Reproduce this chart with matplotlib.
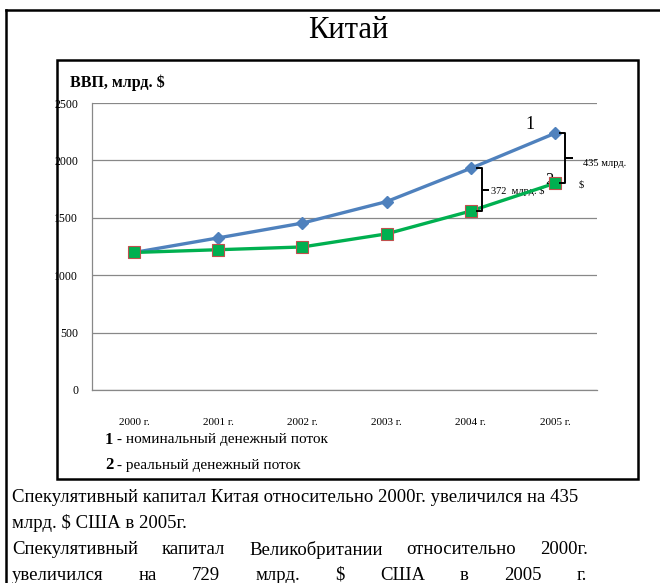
import numpy as np
import matplotlib.pyplot as plt
import matplotlib.patches as patches
from matplotlib.lines import Line2D

years = ["2000 г.", "2001 г.", "2002 г.", "2003 г.", "2004 г.", "2005 г."]
nominal = [1198, 1325, 1454, 1641, 1931, 2236]
real = [1198, 1222, 1246, 1360, 1559, 1801]
yticks = [0, 500, 1000, 1500, 2000, 2500]

W, H = 660, 583
SERIF = "Liberation Serif"


def fx(px):
    return px / W


def fy(py):
    return 1 - py / H


fig = plt.figure(figsize=(W / 100, H / 100), dpi=100)

# outer frame and chart box
fig.add_artist(Line2D([fx(6), fx(6)], [fy(10), 0], color="black", lw=1.8))
fig.add_artist(Line2D([fx(6), 1], [fy(10), fy(10)], color="black", lw=1.8))
fig.add_artist(patches.Rectangle((fx(57), fy(479)), fx(638) - fx(57), fy(60) - fy(479),
                                 transform=fig.transFigure, fill=False, edgecolor="black", lw=1.8))

fig.text(fx(348), fy(30), "Китай", ha="center", va="center", fontsize=22, family=SERIF)
fig.text(fx(70), fy(83), "ВВП, млрд. $", ha="left", va="center", fontsize=11.5,
         fontweight="bold", family=SERIF)

ax = fig.add_axes([fx(92), fy(390), fx(597) - fx(92), fy(103) - fy(390)])
x = np.arange(len(years))
ax.plot(x, nominal, color="#4F81BD", lw=2.4, marker="D", ms=6, mfc="#4F81BD", mec="#4F81BD", zorder=3)
ax.plot(x, real, color="#00B050", lw=2.4, marker="s", ms=8, mfc="#00B050", mec="#C0504D", mew=0.8, zorder=4)

ax.set_xlim(-0.5, 5.5)
ax.set_ylim(0, 2500)
ax.set_yticks(yticks)
ax.set_yticklabels([str(v) for v in yticks], family=SERIF, fontsize=8.5)
ax.set_xticks(x)
ax.set_xticklabels(years, family=SERIF, fontsize=8)
ax.tick_params(axis="x", length=0, pad=20)
ax.tick_params(axis="y", length=0, pad=10)
ax.grid(axis="y", color="#888888", lw=0.9)
ax.set_axisbelow(True)
for s in ["top", "right"]:
    ax.spines[s].set_visible(False)
for s in ["left", "bottom"]:
    ax.spines[s].set_color("#888888")
    ax.spines[s].set_linewidth(0.9)


def brace(xb, y_top, y_bot, hook=0.06, tip=0.08):
    ym = (y_top + y_bot) / 2
    xs = [xb - hook, xb, xb, xb + tip, xb, xb, xb - hook]
    ys = [y_top, y_top, ym, ym, ym, y_bot, y_bot]
    ax.plot(xs, ys, color="black", lw=1.4, solid_joinstyle="round", clip_on=False, zorder=5)


brace(5.12, nominal[5], real[5])
brace(4.13, nominal[4], real[4])
ax.text(5.33, 1975, "435 млрд.", family=SERIF, fontsize=7.5, va="center", clip_on=False)
ax.text(5.28, 1790, "$", family=SERIF, fontsize=7.5, va="center", clip_on=False)
ax.text(4.24, 1735, "372  млрд. $", family=SERIF, fontsize=7.5, va="center")
ax.text(4.7, 2310, "1", family=SERIF, fontsize=13, ha="center", va="center")
ax.text(4.94, 1830, "2", family=SERIF, fontsize=12, ha="center", va="center")

# legend notes
fig.text(fx(105), fy(440), "1", family=SERIF, fontsize=12, fontweight="bold", va="center")
fig.text(fx(113), fy(440), " - номинальный денежный поток", family=SERIF, fontsize=11, va="center")
fig.text(fx(105), fy(465), "2", family=SERIF, fontsize=12, fontweight="bold", va="center")
fig.text(fx(113), fy(465), " - реальный денежный поток", family=SERIF, fontsize=11, va="center")

# text below the chart
fig.text(fx(12), fy(498), "Спекулятивный капитал Китая относительно 2000г. увеличился на 435",
         family=SERIF, fontsize=13.5, va="center")
fig.text(fx(12), fy(523), "млрд. $ США в 2005г.", family=SERIF, fontsize=13.5, va="center")


def justified(words, y, x0, x1):
    # spread words across the line like a justified paragraph
    r = fig.canvas.get_renderer()
    arts = [fig.text(0, fy(y), w, family=SERIF, fontsize=13.5, va="center") for w in words]
    widths = [a.get_window_extent(r).width for a in arts]
    gap = (x1 - x0 - sum(widths)) / (len(words) - 1)
    pos = x0
    for a, w in zip(arts, widths):
        a.set_x(fx(pos))
        pos += w + gap


justified(["Спекулятивный", "капитал", "Великобритании", "относительно", "2000г."], 550, 12, 588)
justified(["увеличился", "на", "729", "млрд.", "$", "США", "в", "2005", "г."], 575, 12, 587)

fig.savefig("out.png", dpi=100)
